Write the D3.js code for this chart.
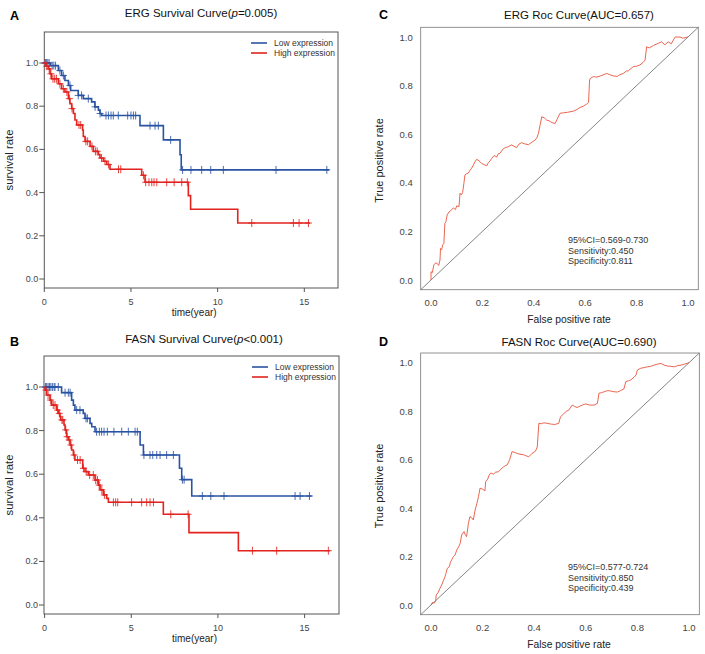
<!DOCTYPE html>
<html><head><meta charset="utf-8">
<script src="https://cdn.jsdelivr.net/npm/d3@7/dist/d3.min.js"></script>
<style>body{margin:0;background:#fff}svg{display:block}text{font-family:"Liberation Sans",Arial,sans-serif}</style>
</head><body>
<script>
// ---------- DATA ----------
// Panel A: ERG survival (event times, survival after event, censor times, end of follow-up)
const ergLowT = [0.35, 0.81, 1.0, 1.19, 1.39, 1.52, 1.96, 2.25, 2.73, 2.92, 3.12, 3.21, 3.31, 5.52, 6.87, 7.83, 7.9];
const ergLowS = [0.988, 0.965, 0.942, 0.919, 0.896, 0.873, 0.85, 0.835, 0.82, 0.797, 0.782, 0.766, 0.757, 0.71, 0.644, 0.575, 0.505];
const ergLowCens = [0.05, 0.12, 0.2, 0.28, 0.45, 0.55, 0.65, 0.9, 1.1, 1.48, 1.96, 2.15, 2.54, 2.93, 3.22, 3.56, 3.70, 3.85, 3.98, 4.27, 4.81, 5.0, 5.14, 5.27, 6.1, 6.39, 6.58, 7.29, 7.98, 8.46, 9.08, 9.6, 10.33, 13.37, 16.3];
const ergLowEnd = 16.43;
const ergHighT = [0.1, 0.23, 0.33, 0.42, 0.81, 1.0, 1.19, 1.39, 1.48, 1.58, 1.68, 1.77, 1.87, 2.21, 2.25, 2.35, 2.64, 2.83, 3.12, 3.21, 3.41, 3.6, 3.79, 5.62, 5.81, 8.31, 8.44, 11.16];
const ergHighS = [0.985, 0.973, 0.95, 0.927, 0.904, 0.881, 0.866, 0.835, 0.812, 0.789, 0.766, 0.736, 0.713, 0.69, 0.66, 0.637, 0.614, 0.591, 0.576, 0.56, 0.545, 0.53, 0.508, 0.48, 0.448, 0.386, 0.323, 0.259];
const ergHighCens = [0.05, 0.15, 0.28, 0.38, 0.5, 0.6, 0.7, 0.9, 1.1, 1.3, 1.45, 1.6, 2.0, 2.1, 2.4, 2.5, 2.75, 2.95, 3.05, 3.3, 3.5, 3.7, 4.28, 4.41, 5.72, 5.85, 6.04, 6.2, 6.33, 6.49, 7.06, 7.49, 7.93, 8.25, 11.97, 14.37, 14.7, 15.24];
const ergHighEnd = 15.33;

// Panel B: FASN survival
const fasnLowT = [0.98, 1.56, 1.66, 1.75, 2.23, 2.33, 2.62, 2.72, 2.91, 5.51, 5.70, 7.78, 7.91, 8.49];
const fasnLowS = [0.974, 0.94, 0.917, 0.894, 0.879, 0.856, 0.833, 0.818, 0.795, 0.734, 0.688, 0.627, 0.575, 0.5];
const fasnLowCens = [0.05, 0.12, 0.2, 0.28, 0.36, 0.45, 0.55, 0.6, 0.79, 1.18, 1.37, 1.47, 1.85, 2.04, 2.39, 2.47, 3.0, 3.16, 3.29, 3.43, 3.62, 4.0, 4.45, 4.83, 5.22, 5.35, 5.73, 6.08, 6.24, 6.47, 6.66, 7.04, 7.43, 7.95, 8.05, 9.1, 9.59, 10.35, 14.45, 14.74, 15.28];
const fasnLowEnd = 15.41;
const fasnHighT = [0.02, 0.12, 0.31, 0.41, 0.70, 0.79, 0.89, 0.93, 1.12, 1.18, 1.27, 1.37, 1.47, 1.56, 1.66, 1.75, 2.20, 2.33, 2.52, 2.91, 3.10, 3.20, 3.39, 3.58, 3.68, 6.85, 8.33, 11.18];
const fasnHighS = [0.986, 0.963, 0.94, 0.917, 0.894, 0.879, 0.864, 0.849, 0.826, 0.803, 0.772, 0.757, 0.734, 0.711, 0.688, 0.665, 0.627, 0.612, 0.596, 0.573, 0.55, 0.528, 0.505, 0.489, 0.471, 0.416, 0.332, 0.249];
const fasnHighCens = [0.08, 0.2, 0.35, 0.5, 0.6, 0.75, 0.85, 1.0, 1.05, 1.22, 1.3, 1.42, 1.52, 1.7, 1.9, 2.05, 2.24, 2.4, 2.6, 2.81, 2.95, 3.05, 3.15, 3.3, 3.45, 3.97, 4.1, 4.22, 5.02, 5.6, 5.89, 6.08, 6.28, 7.28, 8.28, 11.99, 13.39, 16.37];
const fasnHighEnd = 16.47;

// Panel C: ERG ROC
const ergFpr = [0,0,0.005,0.011,0.018,0.023,0.03,0.035,0.037,0.042,0.045,0.05,0.054,0.058,0.063,0.07,0.074,0.08,0.087,0.095,0.1,0.109,0.113,0.118,0.123,0.128,0.132,0.138,0.145,0.152,0.158,0.165,0.171,0.178,0.187,0.197,0.206,0.217,0.223,0.23,0.236,0.242,0.249,0.255,0.262,0.268,0.281,0.29,0.3,0.313,0.323,0.333,0.343,0.353,0.365,0.379,0.39,0.405,0.412,0.418,0.425,0.431,0.44,0.45,0.46,0.47,0.483,0.49,0.502,0.515,0.53,0.554,0.565,0.58,0.592,0.606,0.613,0.617,0.62,0.632,0.645,0.66,0.684,0.695,0.709,0.725,0.735,0.748,0.76,0.767,0.787,0.8,0.813,0.825,0.833,0.839,0.85,0.865,0.884,0.897,0.91,0.923,0.935,0.95,0.969,0.98,1.0];
const ergTpr = [0,0.034,0.03,0.062,0.07,0.069,0.06,0.082,0.13,0.125,0.144,0.15,0.233,0.24,0.268,0.28,0.282,0.29,0.296,0.29,0.305,0.302,0.357,0.35,0.36,0.398,0.432,0.437,0.44,0.452,0.46,0.473,0.486,0.497,0.49,0.48,0.475,0.47,0.483,0.49,0.5,0.508,0.512,0.505,0.52,0.521,0.54,0.545,0.548,0.556,0.55,0.545,0.56,0.565,0.56,0.557,0.565,0.576,0.585,0.603,0.64,0.672,0.668,0.658,0.655,0.648,0.644,0.66,0.686,0.688,0.69,0.695,0.7,0.71,0.715,0.724,0.731,0.823,0.83,0.837,0.835,0.84,0.85,0.845,0.84,0.838,0.845,0.85,0.86,0.86,0.878,0.88,0.885,0.895,0.905,0.96,0.955,0.965,0.974,0.98,0.968,0.98,0.972,1.0,1.0,0.995,1.0];

// Panel D: FASN ROC
const fasnFpr = [0,0.005,0.012,0.018,0.02,0.027,0.035,0.041,0.048,0.054,0.058,0.063,0.071,0.075,0.08,0.087,0.093,0.1,0.107,0.113,0.119,0.128,0.133,0.138,0.145,0.151,0.158,0.164,0.171,0.178,0.184,0.19,0.2,0.209,0.212,0.22,0.225,0.232,0.242,0.25,0.262,0.27,0.281,0.288,0.295,0.305,0.314,0.323,0.333,0.345,0.359,0.37,0.379,0.392,0.405,0.412,0.418,0.428,0.437,0.45,0.463,0.48,0.495,0.502,0.515,0.525,0.534,0.547,0.556,0.566,0.586,0.6,0.615,0.632,0.645,0.651,0.66,0.671,0.685,0.697,0.71,0.723,0.735,0.748,0.755,0.765,0.774,0.787,0.795,0.8,0.813,0.826,0.839,0.852,0.865,0.878,0.891,0.904,0.917,0.93,0.943,0.956,0.969,0.985,1.0];
const fasnTpr = [0,0.01,0.008,0.014,0.041,0.05,0.069,0.082,0.1,0.116,0.13,0.151,0.158,0.175,0.186,0.2,0.206,0.227,0.24,0.254,0.289,0.303,0.29,0.282,0.337,0.365,0.36,0.351,0.392,0.42,0.447,0.482,0.478,0.471,0.509,0.52,0.536,0.545,0.54,0.548,0.55,0.56,0.57,0.575,0.578,0.6,0.633,0.63,0.626,0.622,0.62,0.615,0.612,0.626,0.635,0.653,0.75,0.748,0.752,0.75,0.747,0.745,0.75,0.777,0.79,0.8,0.804,0.825,0.82,0.815,0.825,0.83,0.825,0.825,0.832,0.874,0.876,0.88,0.885,0.883,0.88,0.879,0.885,0.892,0.922,0.925,0.929,0.94,0.95,0.97,0.977,0.98,0.983,0.985,0.99,0.994,0.997,0.99,0.986,0.985,0.983,0.988,0.99,0.995,1.0];

const survTicksY = [0, 0.2, 0.4, 0.6, 0.8, 1.0];
const survTicksX = [0, 5, 10, 15];
const rocTicks = [0, 0.2, 0.4, 0.6, 0.8, 1.0];
const legendLabels = ["Low expression", "High expression"];

// ---------- DRAWING ----------
const BLUE = "#2a54a3", RED = "#e2231f", ROCRED = "#e8553d", FRAME = "#555", TXT = "#444";
const svg = d3.select("body").append("svg").attr("width", 705).attr("height", 654);
const fmt = d3.format(".1f");

function stepValue(T, S, t) {
  let s = 1;
  for (let i = 0; i < T.length; i++) if (T[i] <= t) s = S[i];
  return s;
}

function survPanel(cfg) {
  const g = svg.append("g");
  const x = d3.scaleLinear().domain([0, 15]).range([cfg.x0, cfg.x15]);
  const y = d3.scaleLinear().domain([0, 1]).range([cfg.y0, cfg.y1]);
  const [bx0, bx1, by0, by1] = cfg.box;
  g.append("rect").attr("x", bx0).attr("y", by0).attr("width", bx1 - bx0).attr("height", by1 - by0)
    .attr("fill", "none").attr("stroke", FRAME).attr("stroke-width", 1);
  // y ticks
  survTicksY.forEach(v => {
    g.append("line").attr("x1", bx0 - 5).attr("x2", bx0).attr("y1", y(v)).attr("y2", y(v)).attr("stroke", FRAME);
    g.append("text").attr("x", bx0 - 6).attr("y", y(v) + 3).attr("text-anchor", "end")
      .attr("font-size", 9).attr("fill", TXT).text(fmt(v));
  });
  survTicksX.forEach(v => {
    g.append("line").attr("x1", x(v)).attr("x2", x(v)).attr("y1", by1).attr("y2", by1 + 4).attr("stroke", FRAME);
    g.append("text").attr("x", x(v)).attr("y", by1 + 17).attr("text-anchor", "middle")
      .attr("font-size", 9).attr("fill", TXT).text(v);
  });
  g.append("text").attr("x", (bx0 + bx1) / 2 + 3).attr("y", by1 + 28).attr("text-anchor", "middle")
    .attr("font-size", 10).attr("fill", "#222").text("time(year)");
  g.append("text").attr("transform", `translate(13,${(by0 + by1) / 2}) rotate(-90)`).attr("text-anchor", "middle")
    .attr("font-size", 11.3).attr("fill", "#222").text("survival rate");
  // title
  const t = g.append("text").attr("x", cfg.titleX).attr("y", cfg.titleY).attr("text-anchor", "middle")
    .attr("font-size", 11.5).attr("fill", "#111");
  t.append("tspan").text(cfg.gene + " Survival Curve(");
  t.append("tspan").attr("font-style", "italic").text("p");
  t.append("tspan").text(cfg.pText + ")");
  g.append("text").attr("x", 10).attr("y", cfg.titleY + 3).attr("font-size", 12.5).attr("font-weight", "bold").text(cfg.letter);

  const line = d3.line().x(d => x(d[0])).y(d => y(d[1])).curve(d3.curveStepAfter);
  cfg.series.forEach(sr => {
    const pts = [[0, 1]].concat(sr.T.map((tt, i) => [tt, sr.S[i]]));
    pts.push([sr.end, sr.S[sr.S.length - 1]]);
    g.append("path").attr("d", line(pts)).attr("fill", "none").attr("stroke", sr.color).attr("stroke-width", 1.6);
    sr.C.forEach(c => {
      const cx = x(c), cy = y(stepValue(sr.T, sr.S, c));
      g.append("path").attr("d", `M${cx - 3.5},${cy}H${cx + 3.5}M${cx},${cy - 4}V${cy + 4}`)
        .attr("stroke", sr.color).attr("stroke-width", 1).attr("stroke-opacity", 0.85);
    });
  });
  // legend
  [BLUE, RED].forEach((col, i) => {
    const ly = cfg.legY + i * 10;
    g.append("line").attr("x1", cfg.legX).attr("x2", cfg.legX + 16).attr("y1", ly).attr("y2", ly)
      .attr("stroke", col).attr("stroke-width", 1.6);
    g.append("text").attr("x", cfg.legX + 23).attr("y", ly + 3).attr("font-size", 8.5).attr("fill", "#333").text(legendLabels[i]);
  });
}

function rocPanel(cfg) {
  const g = svg.append("g");
  const x = d3.scaleLinear().domain([0, 1]).range([cfg.x0, cfg.x1]);
  const y = d3.scaleLinear().domain([0, 1]).range([cfg.y0, cfg.y1]);
  const [bx0, bx1, by0, by1] = [x(-0.04), x(1.04), y(1.04), y(-0.04)];
  g.append("rect").attr("x", bx0).attr("y", by0).attr("width", bx1 - bx0).attr("height", by1 - by0)
    .attr("fill", "none").attr("stroke", "#777").attr("stroke-width", 0.8);
  rocTicks.forEach(v => {
    g.append("text").attr("x", bx0 - 8).attr("y", y(v) + 3.5).attr("text-anchor", "end")
      .attr("font-size", 9.5).attr("fill", TXT).text(fmt(v));
    g.append("text").attr("x", x(v)).attr("y", by1 + 16).attr("text-anchor", "middle")
      .attr("font-size", 9.5).attr("fill", TXT).text(fmt(v));
  });
  g.append("text").attr("x", 569).attr("y", by1 + 33).attr("text-anchor", "middle")
    .attr("font-size", 10.3).attr("fill", "#222").text("False positive rate");
  g.append("text").attr("transform", `translate(383,${(by0 + by1) / 2 + 2}) rotate(-90)`).attr("text-anchor", "middle")
    .attr("font-size", 11).attr("fill", "#222").text("True positive rate");
  g.append("text").attr("x", 579).attr("y", cfg.titleY).attr("text-anchor", "middle")
    .attr("font-size", 11.5).attr("fill", "#111").text(cfg.gene + " Roc Curve(AUC=" + cfg.auc + ")");
  g.append("text").attr("x", 379).attr("y", cfg.titleY).attr("font-size", 12.5).attr("font-weight", "bold").text(cfg.letter);
  // diagonal
  g.append("line").attr("x1", x(-0.04)).attr("y1", y(-0.04)).attr("x2", x(1.04)).attr("y2", y(1.04))
    .attr("stroke", "#666").attr("stroke-width", 0.8);
  const line = d3.line().x(d => x(d[0])).y(d => y(d[1]));
  g.append("path").attr("d", line(cfg.fpr.map((f, i) => [f, cfg.tpr[i]]))).attr("fill", "none")
    .attr("stroke", ROCRED).attr("stroke-width", 0.9);
  cfg.notes.forEach((n, i) => {
    g.append("text").attr("x", 568).attr("y", cfg.noteY + i * 10.5).attr("font-size", 9).attr("fill", "#333").text(n);
  });
}

survPanel({gene: "ERG", pText: "=0.005", letter: "A", titleX: 201, titleY: 17,
  x0: 44.3, x15: 304.3, y0: 279, y1: 63, box: [44.3, 338, 32, 288], legX: 251, legY: 43,
  series: [{T: ergLowT, S: ergLowS, C: ergLowCens, end: ergLowEnd, color: BLUE},
           {T: ergHighT, S: ergHighS, C: ergHighCens, end: ergHighEnd, color: RED}]});
survPanel({gene: "FASN", pText: "<0.001", letter: "B", titleX: 204, titleY: 343,
  x0: 44.6, x15: 304.6, y0: 605, y1: 387, box: [44, 339, 356, 614], legX: 252, legY: 367,
  series: [{T: fasnLowT, S: fasnLowS, C: fasnLowCens, end: fasnLowEnd, color: BLUE},
           {T: fasnHighT, S: fasnHighS, C: fasnHighCens, end: fasnHighEnd, color: RED}]});
rocPanel({gene: "ERG", auc: "0.657", letter: "C", titleY: 19, x0: 431, x1: 688, y0: 280, y1: 37,
  fpr: ergFpr, tpr: ergTpr, noteY: 243, notes: ["95%CI=0.569-0.730", "Sensitivity:0.450", "Specificity:0.811"]});
rocPanel({gene: "FASN", auc: "0.690", letter: "D", titleY: 346, x0: 431, x1: 689, y0: 605, y1: 362.7,
  fpr: fasnFpr, tpr: fasnTpr, noteY: 570, notes: ["95%CI=0.577-0.724", "Sensitivity:0.850", "Specificity:0.439"]});
</script>
</body></html>
